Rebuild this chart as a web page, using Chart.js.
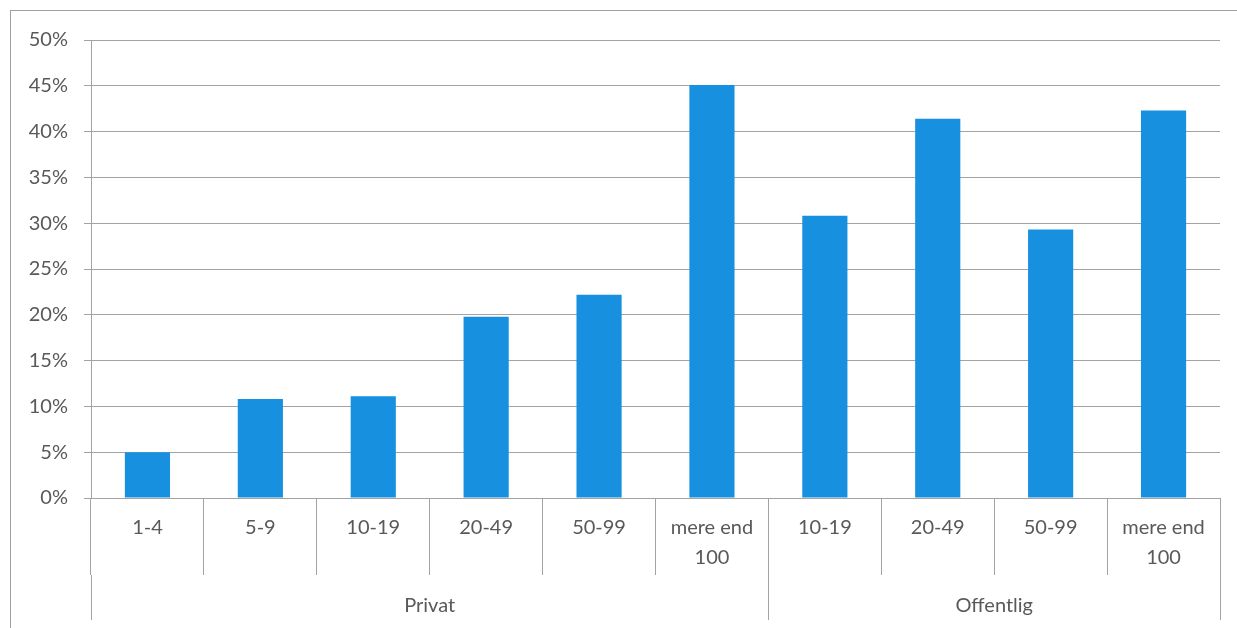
<!DOCTYPE html>
<html>
<head>
<meta charset="utf-8">
<script src="https://cdn.jsdelivr.net/npm/chart.js@4/dist/chart.umd.min.js"></script>
<style>
  html, body { margin: 0; padding: 0; background: #fff; }
  #wrap { position: relative; width: 1237px; height: 628px; overflow: hidden; }
  #frame { position: absolute; left: 10px; top: 10px; width: 1300px; height: 700px;
           border-left: 1px solid #a0a0a0; border-top: 1px solid #a0a0a0; box-sizing: border-box; }
  #c { position: absolute; left: 0; top: 0; }
</style>
</head>
<body>
<div id="wrap">
  <div id="frame"></div>
  <canvas id="c" width="1237" height="628"></canvas>
</div>
<script>
const categories = ['1-4', '5-9', '10-19', '20-49', '50-99', ['mere end', '100'],
                    '10-19', '20-49', '50-99', ['mere end', '100']];
const values = [5.0, 10.8, 11.1, 19.8, 22.2, 45.1, 30.8, 41.4, 29.3, 42.3];
const groups = ['Privat', 'Offentlig'];
const groupSizes = [6, 4];
const yTicks = [0, 5, 10, 15, 20, 25, 30, 35, 40, 45, 50];

const gridColor = '#a3a3a3';
const textColor = '#595959';
const fontFamily = 'Lato, "Open Sans", sans-serif';

// group boundaries and centers in category units
const bounds = [0];
groupSizes.forEach(s => bounds.push(bounds[bounds.length - 1] + s));
const centers = groupSizes.map((s, i) => bounds[i] + s / 2);
const total = bounds[bounds.length - 1];

new Chart(document.getElementById('c'), {
  type: 'bar',
  data: {
    labels: categories,
    datasets: [{
      data: values,
      backgroundColor: '#1790e0',
      borderWidth: 0,
      barPercentage: 0.4,
      categoryPercentage: 1.0,
      xAxisID: 'x'
    }]
  },
  options: {
    responsive: false,
    animation: false,
    layout: { padding: { top: 40, left: 0, right: 17, bottom: 8 } },
    plugins: { legend: { display: false }, tooltip: { enabled: false } },
    scales: {
      y: {
        min: 0, max: 50,
        afterFit: s => { s.width = 91; },
        afterBuildTicks: axis => { axis.ticks = yTicks.map(v => ({ value: v })); },
        ticks: {
          callback: v => v + '%',
          color: textColor,
          font: { family: fontFamily, size: 20 },
          padding: 16
        },
        grid: { color: gridColor, lineWidth: 1, tickLength: 7 },
        border: { display: true, color: gridColor, width: 1 }
      },
      x: {
        position: 'bottom',
        offset: true,
        afterFit: s => { s.height = 77; },
        ticks: {
          color: textColor,
          font: { family: fontFamily, size: 20, lineHeight: 1.5 },
          maxRotation: 0,
          autoSkip: false,
          padding: -62
        },
        grid: { offset: true, drawOnChartArea: false, color: gridColor, tickLength: 77 },
        border: { display: false }
      },
      x2: {
        type: 'linear',
        position: 'bottom',
        offset: false,
        min: 0, max: total,
        afterFit: s => { s.height = 45; },
        afterBuildTicks: axis => {
          const t = [];
          bounds.forEach(b => t.push({ value: b }));
          centers.forEach(c => t.push({ value: c }));
          t.sort((a, b) => a.value - b.value);
          axis.ticks = t;
        },
        ticks: {
          autoSkip: false,
          maxRotation: 0,
          color: textColor,
          font: { family: fontFamily, size: 20 },
          padding: -26,
          callback: v => {
            const i = centers.indexOf(v);
            return i >= 0 ? groups[i] : '';
          }
        },
        grid: {
          offset: false,
          drawOnChartArea: false,
          tickLength: 45,
          color: ctx => (ctx.tick && centers.indexOf(ctx.tick.value) >= 0) ? 'rgba(0,0,0,0)' : gridColor
        },
        border: { display: false }
      }
    }
  }
});
</script>
</body>
</html>
